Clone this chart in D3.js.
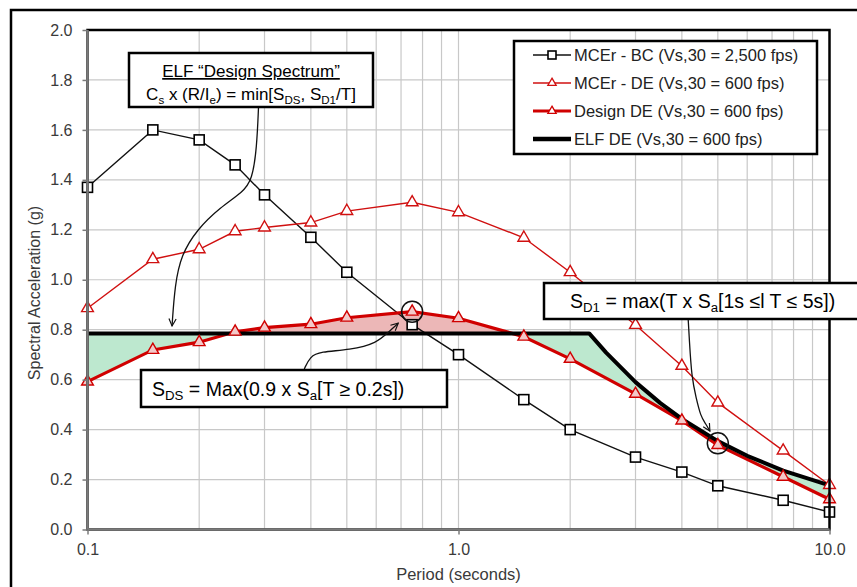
<!DOCTYPE html>
<html>
<head>
<meta charset="utf-8">
<script src="https://cdn.jsdelivr.net/npm/d3@7"></script>
<style>
  body { margin: 0; background: #fff; }
  svg { font-family: "Liberation Sans", Arial, sans-serif; }
</style>
</head>
<body>
<svg id="chart" width="857" height="587"></svg>
<script>
// Data
const periods  = [0.1, 0.15, 0.2, 0.25, 0.3, 0.4, 0.5, 0.75, 1.0, 1.5, 2.0, 3.0, 4.0, 5.0, 7.5, 10.0];
const mcerBC   = [1.37, 1.60, 1.56, 1.46, 1.34, 1.17, 1.03, 0.82, 0.70, 0.52, 0.40, 0.29, 0.23, 0.175, 0.117, 0.07];
const mcerDE   = [0.886, 1.082, 1.122, 1.194, 1.209, 1.229, 1.275, 1.310, 1.270, 1.168, 1.030, 0.819, 0.655, 0.508, 0.316, 0.178];
const designDE = [0.592, 0.719, 0.750, 0.792, 0.808, 0.822, 0.848, 0.872, 0.846, 0.772, 0.683, 0.543, 0.436, 0.338, 0.211, 0.121];
const elfPeriods = [0.1, 2.25, 2.5, 3.0, 3.5, 4.0, 5.0, 6.0, 7.5, 10.0];
const elfDE      = [0.785, 0.785, 0.708, 0.590, 0.506, 0.443, 0.354, 0.295, 0.236, 0.177];

const xTickLabels = ["0.1", "1.0", "10.0"];
const yTicks = [0, 0.2, 0.4, 0.6, 0.8, 1.0, 1.2, 1.4, 1.6, 1.8, 2.0];

const legendNames = [
  "MCEr - BC (Vs,30 = 2,500 fps)",
  "MCEr - DE (Vs,30 = 600 fps)",
  "Design DE (Vs,30 = 600 fps)",
  "ELF DE (Vs,30 = 600 fps)"
];

// annotation paths in (period, g) coordinates
const arrowElf = [[0.289,1.69],[0.286,1.53],[0.278,1.40],[0.262,1.35],[0.228,1.29],[0.197,1.20],[0.179,1.10],[0.172,0.98],[0.169,0.815]];
const arrowSds = [[0.384,0.643],[0.398,0.692],[0.423,0.712],[0.510,0.719],[0.602,0.745],[0.654,0.797],[0.688,0.826]];
const arrowSd1 = [[4.16,0.842],[4.19,0.76],[4.25,0.61],[4.37,0.527],[4.50,0.452],[4.63,0.425],[4.76,0.394]];
const circlePts = [[0.75, 0.872], [5.0, 0.345]];

const svg = d3.select("#chart");
const margin = {top: 30, right: 27.5, bottom: 57.5, left: 87.5};
const width = +svg.attr("width");
const height = +svg.attr("height");

const x = d3.scaleLog().domain([0.1, 10]).range([margin.left, width - margin.right]);
const y = d3.scaleLinear().domain([0, 2]).range([height - margin.bottom, margin.top]);

// outer frame
svg.append("rect").attr("x", 11).attr("y", 10).attr("width", 900).attr("height", 700)
   .attr("fill", "none").attr("stroke", "#000").attr("stroke-width", 2.5);

// grid
svg.append("g").selectAll("line").data(x.ticks())
  .join("line")
  .attr("x1", d => x(d)).attr("x2", d => x(d))
  .attr("y1", y(0)).attr("y2", y(2))
  .attr("stroke", "#c8c8c8").attr("stroke-width", 1.2);
svg.append("g").selectAll("line").data(yTicks)
  .join("line")
  .attr("x1", x(0.1)).attr("x2", x(10))
  .attr("y1", d => y(d)).attr("y2", d => y(d))
  .attr("stroke", "#c8c8c8").attr("stroke-width", 1.2);

const toPts = (xs, ys) => xs.map((t, i) => [t, ys[i]]);
const bcPts = toPts(periods, mcerBC);
const dePts = toPts(periods, mcerDE);
const desPts = toPts(periods, designDE);
const elfPts = toPts(elfPeriods, elfDE);

const line = d3.line().x(d => x(d[0])).y(d => y(d[1]));

// shaded regions between ELF and Design
const defs = svg.append("defs");
defs.append("clipPath").attr("id", "aboveDes").append("path")
  .attr("d", line(desPts.concat([[10, 2], [0.1, 2]])) + "Z");
defs.append("clipPath").attr("id", "belowDes").append("path")
  .attr("d", line(desPts.concat([[10, 0], [0.1, 0]])) + "Z");
const between = line(elfPts.concat(desPts.slice().reverse())) + "Z";
svg.append("path").attr("d", between).attr("fill", "#bde8cf").attr("clip-path", "url(#aboveDes)");
svg.append("path").attr("d", between).attr("fill", "#ecb7b7").attr("clip-path", "url(#belowDes)");

// lines
svg.append("path").attr("d", line(bcPts)).attr("fill", "none").attr("stroke", "#111").attr("stroke-width", 1.4);
svg.append("path").attr("d", line(dePts)).attr("fill", "none").attr("stroke", "#d01010").attr("stroke-width", 1.4);
svg.append("path").attr("d", line(desPts)).attr("fill", "none").attr("stroke", "#d00000").attr("stroke-width", 3.2);
svg.append("path").attr("d", line(elfPts)).attr("fill", "none").attr("stroke", "#000").attr("stroke-width", 4)
   .attr("stroke-linejoin", "round");

// markers
const tri = d3.symbol().type(d3.symbolTriangle).size(60);
svg.append("g").selectAll("path").data(dePts).join("path")
  .attr("d", tri).attr("transform", d => `translate(${x(d[0])},${y(d[1])})`)
  .attr("fill", "#fff").attr("stroke", "#d01010").attr("stroke-width", 1.4);
svg.append("g").selectAll("path").data(desPts).join("path")
  .attr("d", tri).attr("transform", d => `translate(${x(d[0])},${y(d[1])})`)
  .attr("fill", "#f3c9c9").attr("stroke", "#d00000").attr("stroke-width", 1.4);
svg.append("g").selectAll("rect").data(bcPts).join("rect")
  .attr("x", d => x(d[0]) - 5).attr("y", d => y(d[1]) - 5)
  .attr("width", 10).attr("height", 10)
  .attr("fill", "#fff").attr("stroke", "#000").attr("stroke-width", 1.6);

// plot border and axes
svg.append("rect").attr("x", x(0.1)).attr("y", y(2)).attr("width", x(10) - x(0.1)).attr("height", y(0) - y(2))
   .attr("fill", "none").attr("stroke", "#000").attr("stroke-width", 2.5);
svg.append("line").attr("x1", x(0.1)).attr("x2", x(0.1)).attr("y1", y(2)).attr("y2", y(0))
   .attr("stroke", "#7a7a7a").attr("stroke-width", 2.5);
svg.append("line").attr("x1", x(0.1)).attr("x2", x(10)).attr("y1", y(0)).attr("y2", y(0))
   .attr("stroke", "#7a7a7a").attr("stroke-width", 2.5);

const yAxis = svg.append("g").attr("transform", `translate(${x(0.1)},0)`)
  .call(d3.axisLeft(y).tickValues(yTicks).tickFormat(d3.format(".1f")).tickSize(5).tickPadding(10));
const xAxis = svg.append("g").attr("transform", `translate(0,${y(0)})`)
  .call(d3.axisBottom(x).tickValues([0.1, 1, 10]).tickFormat((d, i) => xTickLabels[i]).tickSize(5).tickPadding(9));
[yAxis, xAxis].forEach(a => {
  a.select(".domain").remove();
  a.selectAll("line").attr("stroke", "#7a7a7a").attr("stroke-width", 1.5);
  a.selectAll("text").attr("font-size", 16).attr("fill", "#3a3a3a").attr("font-family", "Liberation Sans, Arial, sans-serif");
});

svg.append("text").attr("transform", `translate(40,293) rotate(-90)`)
  .attr("text-anchor", "middle").attr("font-size", 16).attr("fill", "#3a3a3a")
  .text("Spectral Acceleration (g)");
svg.append("text").attr("x", x(1)).attr("y", 580)
  .attr("text-anchor", "middle").attr("font-size", 16.5).attr("fill", "#3a3a3a")
  .text("Period (seconds)");

// circles + arrows
svg.append("g").selectAll("circle").data(circlePts).join("circle")
  .attr("cx", d => x(d[0])).attr("cy", d => y(d[1])).attr("r", 10.5)
  .attr("fill", "none").attr("stroke", "#111").attr("stroke-width", 1.5);

defs.append("marker").attr("id", "arrow").attr("viewBox", "0 0 10 10")
  .attr("refX", 9).attr("refY", 5).attr("markerWidth", 9).attr("markerHeight", 9)
  .attr("markerUnits", "userSpaceOnUse").attr("orient", "auto")
  .append("path").attr("d", "M1,1 L9,5 L1,9").attr("fill", "none").attr("stroke", "#111").attr("stroke-width", 1.3);

const curve = d3.line().x(d => x(d[0])).y(d => y(d[1])).curve(d3.curveBasis);
[arrowElf, arrowSds, arrowSd1].forEach(pts => {
  svg.append("path").attr("d", curve(pts)).attr("fill", "none")
    .attr("stroke", "#111").attr("stroke-width", 1.3).attr("marker-end", "url(#arrow)");
});

// text boxes
function box(x0, y0, w, h) {
  svg.append("rect").attr("x", x0).attr("y", y0).attr("width", w).attr("height", h)
    .attr("fill", "#fff").attr("stroke", "#000").attr("stroke-width", 2.5);
}
function sub(t, str) {
  t.append("tspan").attr("font-size", "0.68em").attr("baseline-shift", "-4").text(str);
}

box(129, 53, 244, 54);
svg.append("text").attr("x", 251).attr("y", 77).attr("text-anchor", "middle").attr("font-size", 17)
  .attr("text-decoration", "underline").text("ELF \u201CDesign Spectrum\u201D");
const t2 = svg.append("text").attr("x", 251).attr("y", 100).attr("text-anchor", "middle").attr("font-size", 17);
t2.append("tspan").text("C"); sub(t2, "s");
t2.append("tspan").text(" x (R/I"); sub(t2, "e");
t2.append("tspan").text(") = min[S"); sub(t2, "DS");
t2.append("tspan").text(", S"); sub(t2, "D1");
t2.append("tspan").text("/T]");

box(141, 370, 306, 37);
const t3 = svg.append("text").attr("x", 152).attr("y", 396).attr("font-size", 19.5);
t3.append("tspan").text("S"); sub(t3, "DS");
t3.append("tspan").text(" = Max(0.9 x S"); sub(t3, "a");
t3.append("tspan").text("[T \u2265 0.2s])");

box(544, 283, 330, 36);
const t4 = svg.append("text").attr("x", 570).attr("y", 308).attr("font-size", 19.5);
t4.append("tspan").text("S"); sub(t4, "D1");
t4.append("tspan").text(" = max(T x S"); sub(t4, "a");
t4.append("tspan").text("[1s \u2264l T \u2264 5s])");

// legend
box(514, 41, 303, 113);
const lg = svg.append("g");
const styles = [
  {stroke: "#111", w: 1.5, mk: "sq"},
  {stroke: "#d01010", w: 1.5, mk: "tri"},
  {stroke: "#d00000", w: 3, mk: "tri"},
  {stroke: "#000", w: 4.5, mk: null}
];
legendNames.forEach((name, i) => {
  const cy = 55 + i * 28;
  const s = styles[i];
  lg.append("line").attr("x1", 533).attr("x2", 571).attr("y1", cy).attr("y2", cy)
    .attr("stroke", s.stroke).attr("stroke-width", s.w);
  if (s.mk === "sq") {
    lg.append("rect").attr("x", 548).attr("y", cy - 4).attr("width", 8).attr("height", 8)
      .attr("fill", "#fff").attr("stroke", "#000").attr("stroke-width", 1.6);
  } else if (s.mk === "tri") {
    lg.append("path").attr("d", d3.symbol().type(d3.symbolTriangle).size(30)())
      .attr("transform", `translate(552,${cy})`)
      .attr("fill", "#fff").attr("stroke", s.stroke).attr("stroke-width", 1.3);
  }
  lg.append("text").attr("x", 574).attr("y", cy + 6).attr("font-size", 16.5).attr("fill", "#222").text(name);
});
</script>
</body>
</html>
